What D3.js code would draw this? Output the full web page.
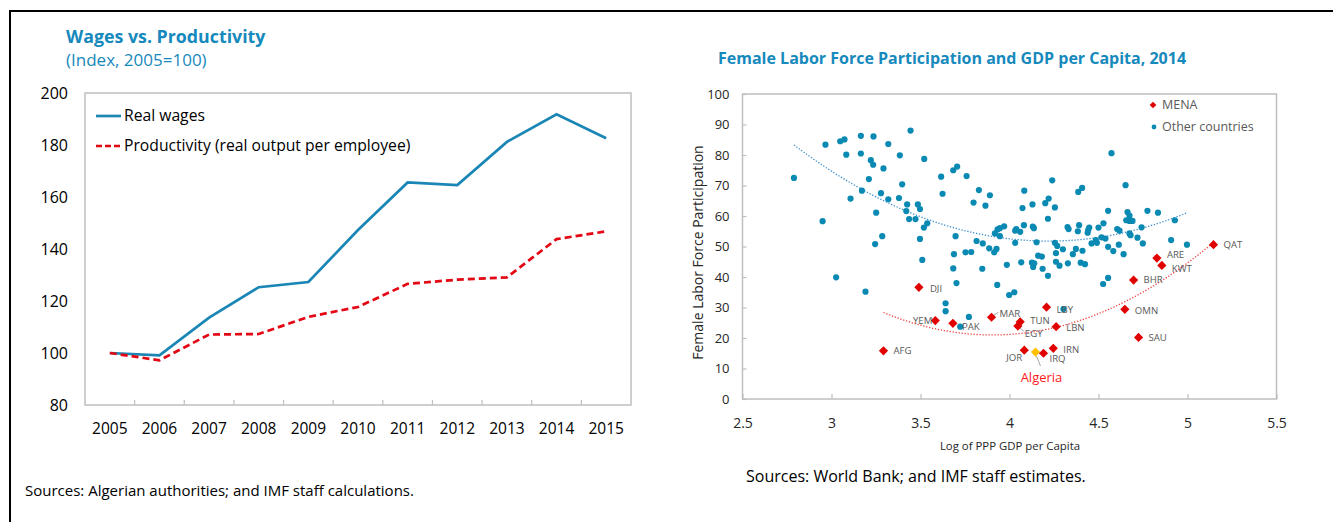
<!DOCTYPE html>
<html>
<head>
<meta charset="utf-8">
<script src="https://cdn.jsdelivr.net/npm/d3@7"></script>
<style>
  body { margin: 0; background: #fff; }
  svg { display: block; font-family: "Open Sans", "Noto Sans", sans-serif; }
</style>
</head>
<body>
<svg id="chart" width="1333" height="522"></svg>
<script>
// ---- Wages vs. productivity (index, 2005 = 100) ----
const years = [2005, 2006, 2007, 2008, 2009, 2010, 2011, 2012, 2013, 2014, 2015];
const realWages = [100, 99.1, 113.6, 125.3, 127.3, 147.3, 165.6, 164.6, 181.2, 191.8, 182.6];
const productivity = [100, 97.2, 107.1, 107.3, 113.9, 117.7, 126.6, 128.2, 129.1, 143.8, 146.8];
const wageTicks = [80, 100, 120, 140, 160, 180, 200];

// ---- Female labor force participation vs. log PPP GDP per capita, 2014 ----
const gdpTicks = [2.5, 3, 3.5, 4, 4.5, 5, 5.5];
const lfpTicks = [0, 10, 20, 30, 40, 50, 60, 70, 80, 90, 100];

// other countries: [log GDP per capita, participation rate]
const otherCountries = [
  [2.789, 72.5], [2.950, 58.3], [2.966, 83.4], [3.049, 84.5], [3.073, 85.1], [3.083, 80.1],
  [3.107, 65.7], [3.165, 86.3], [3.165, 80.5], [3.171, 68.3], [3.210, 72.1], [3.221, 78.3],
  [3.234, 76.8], [3.236, 86.1], [3.245, 50.8], [3.251, 61.1], [3.278, 67.5], [3.285, 53.4],
  [3.292, 75.6], [3.319, 83.6], [3.319, 65.5], [3.379, 65.9], [3.384, 79.9], [3.397, 70.4],
  [3.420, 61.6], [3.425, 63.8], [3.436, 59.0], [3.444, 88.0], [3.472, 59.0], [3.485, 63.8],
  [3.497, 62.3], [3.497, 52.5], [3.519, 56.2], [3.521, 78.7], [3.538, 57.6], [3.510, 45.6],
  [3.616, 72.9], [3.624, 67.3], [3.684, 75.0], [3.706, 76.2], [3.688, 47.5], [3.697, 53.4],
  [3.753, 48.1], [3.785, 48.2], [3.759, 73.1], [3.798, 64.4], [3.815, 51.8], [3.828, 68.5],
  [3.850, 51.0], [3.865, 63.4], [3.886, 49.4], [3.890, 66.8], [3.914, 48.1], [3.918, 54.3],
  [3.927, 49.2], [3.933, 55.6], [3.946, 53.4], [3.946, 56.0], [3.970, 56.6], [3.026, 39.9],
  [3.191, 35.2], [3.684, 42.8], [3.847, 42.7], [3.702, 38.0], [3.985, 44.0], [3.931, 37.4],
  [3.998, 34.1], [3.641, 31.4], [3.641, 28.8], [3.772, 26.9], [3.723, 23.7], [4.027, 35.0],
  [4.303, 29.5], [4.032, 51.2], [4.032, 55.2], [4.038, 55.7], [4.060, 54.8], [4.073, 62.6],
  [4.081, 57.0], [4.083, 68.3], [4.066, 44.8], [4.129, 63.8], [4.131, 56.5], [4.137, 56.0],
  [4.126, 44.7], [4.133, 43.3], [4.139, 44.5], [4.152, 51.4], [4.161, 47.0], [4.182, 46.7],
  [4.186, 42.7], [4.201, 64.2], [4.220, 65.7], [4.216, 59.1], [4.216, 40.4], [4.240, 71.7],
  [4.255, 62.8], [4.255, 51.2], [4.268, 50.2], [4.261, 47.8], [4.261, 45.0], [4.281, 43.7],
  [4.300, 49.1], [4.326, 56.4], [4.332, 55.7], [4.328, 44.5], [4.356, 47.5], [4.373, 49.2],
  [4.386, 67.9], [4.384, 55.0], [4.391, 57.0], [4.400, 44.7], [4.424, 44.2], [4.408, 69.2],
  [4.410, 48.6], [4.448, 56.2], [4.442, 55.4], [4.439, 54.5], [4.461, 51.0], [4.485, 52.1],
  [4.491, 51.2], [4.500, 56.2], [4.517, 53.0], [4.539, 52.6], [4.528, 57.6], [4.554, 61.7],
  [4.554, 49.9], [4.573, 80.6], [4.583, 48.5], [4.605, 55.7], [4.614, 50.6], [4.618, 55.2],
  [4.641, 47.5], [4.652, 70.1], [4.656, 58.6], [4.663, 61.3], [4.674, 60.1], [4.674, 58.4],
  [4.691, 58.4], [4.674, 54.3], [4.680, 53.7], [4.719, 52.9], [4.742, 56.3], [4.749, 51.0],
  [4.775, 61.7], [4.834, 61.1], [4.908, 52.1], [4.929, 58.6], [4.997, 50.6], [4.554, 39.7],
  [4.526, 37.7]
];

// MENA countries
const menaCodes = ["AFG", "DJI", "YEM", "PAK", "MAR", "EGY", "TUN", "JOR", "ALG", "IRQ", "LBY", "IRN", "LBN", "OMN", "BHR", "SAU", "ARE", "KWT", "QAT"];
const menaGdp   = [3.292, 3.491, 3.583, 3.682, 3.899, 4.047, 4.060, 4.083, 4.146, 4.191, 4.208, 4.246, 4.262, 4.648, 4.697, 4.725, 4.828, 4.856, 5.146];
const menaLfp   = [15.8, 36.6, 25.7, 24.8, 26.8, 23.9, 25.3, 16.0, 15.4, 15.0, 30.1, 16.6, 23.7, 29.4, 39.0, 20.2, 46.2, 43.8, 50.6];
const highlight = "ALG";
const highlightName = "Algeria";

const svg = d3.select("#chart");
const BLUE = "#1a86b5";
const RED = "#e30613";
const DOT = "#0a8ab2";
const TEXT = "#262626";
const LABEL = "#595959";
const FRAME = "#bfbfbf";
const TITLE = "#1689bd";

// page frame
svg.append("line").attr("x1", 10).attr("x2", 1333).attr("y1", 11).attr("y2", 11)
  .attr("stroke", "#000").attr("stroke-width", 2);
svg.append("line").attr("x1", 10).attr("x2", 10).attr("y1", 10).attr("y2", 522)
  .attr("stroke", "#000").attr("stroke-width", 2);

// ================= Left: wages vs productivity =================
const L = { left: 85, right: 631, top: 93, bottom: 405 };
const xb = d3.scaleBand().domain(years).range([L.left, L.right]);
const yw = d3.scaleLinear().domain([80, 200]).range([L.bottom, L.top]);

svg.append("text").attr("x", 66).attr("y", 43)
  .attr("fill", TITLE).attr("font-weight", 700).attr("font-size", 17.8)
  .text("Wages vs. Productivity");
svg.append("text").attr("x", 66).attr("y", 66)
  .attr("fill", TITLE).attr("font-size", 17)
  .text("(Index, 2005=100)");

svg.append("rect").attr("x", L.left).attr("y", L.top)
  .attr("width", L.right - L.left).attr("height", L.bottom - L.top)
  .attr("fill", "none").attr("stroke", FRAME).attr("stroke-width", 1.5);

const yAxisL = svg.append("g").attr("transform", `translate(${L.left},0)`)
  .call(d3.axisLeft(yw).tickValues(wageTicks).tickSize(0).tickPadding(17));
yAxisL.select(".domain").remove();
yAxisL.selectAll("text").attr("font-size", 16).attr("fill", "#000")
  .attr("font-family", "'Open Sans', sans-serif");

const xAxisL = svg.append("g").attr("transform", `translate(0,${L.bottom})`)
  .call(d3.axisBottom(xb).tickSize(0).tickPadding(18));
xAxisL.select(".domain").remove();
xAxisL.selectAll("text").attr("font-size", 15.5).attr("fill", "#000")
  .attr("font-family", "'Open Sans', sans-serif");

// category separators on the bottom edge
svg.append("g").selectAll("line").data(years.slice(1)).join("line")
  .attr("x1", d => xb(d)).attr("x2", d => xb(d))
  .attr("y1", L.bottom).attr("y2", L.bottom - 5)
  .attr("stroke", FRAME).attr("stroke-width", 1.2);

const lineW = d3.line().x((d, i) => xb(years[i]) + xb.bandwidth() / 2).y(d => yw(d));
svg.append("path").datum(realWages).attr("d", lineW)
  .attr("fill", "none").attr("stroke", BLUE).attr("stroke-width", 2.7);
svg.append("path").datum(productivity).attr("d", lineW)
  .attr("fill", "none").attr("stroke", RED).attr("stroke-width", 2.7)
  .attr("stroke-dasharray", "7,4");

// legend
const legL = [
  { name: "Real wages", color: BLUE, dash: null, y: 116 },
  { name: "Productivity (real output per employee)", color: RED, dash: "6,3", y: 146 }
];
legL.forEach(d => {
  svg.append("line").attr("x1", 96).attr("x2", 121).attr("y1", d.y).attr("y2", d.y)
    .attr("stroke", d.color).attr("stroke-width", 2.7).attr("stroke-dasharray", d.dash);
  svg.append("text").attr("x", 124).attr("y", d.y).attr("dy", "0.35em")
    .attr("font-size", 15.7).attr("fill", "#000").text(d.name);
});

svg.append("text").attr("x", 25).attr("y", 491).attr("dy", "0.35em")
  .attr("font-size", 15).attr("fill", "#000")
  .text("Sources: Algerian authorities; and IMF staff calculations.");

// ================= Right: female labor force participation =================
const R = { left: 742.5, right: 1276.5, top: 94, bottom: 399 };
const xs = d3.scaleLinear().domain([2.5, 5.5]).range([R.left, R.right]);
const ys = d3.scaleLinear().domain([0, 100]).range([R.bottom, R.top]);

svg.append("text").attr("x", 718).attr("y", 64)
  .attr("fill", TITLE).attr("font-weight", 700).attr("font-size", 16)
  .text("Female Labor Force Participation and GDP per Capita, 2014");

svg.append("rect").attr("x", R.left).attr("y", R.top)
  .attr("width", R.right - R.left).attr("height", R.bottom - R.top)
  .attr("fill", "none").attr("stroke", FRAME).attr("stroke-width", 1.5);

const xAxisR = svg.append("g").attr("transform", `translate(0,${R.bottom})`)
  .call(d3.axisBottom(xs).tickValues(gdpTicks).tickFormat(d3.format("")).tickSizeInner(-5).tickSizeOuter(0).tickPadding(19));
xAxisR.select(".domain").remove();
xAxisR.selectAll("line").attr("stroke", FRAME).attr("stroke-width", 1.2);
xAxisR.selectAll("text").attr("font-size", 14).attr("fill", TEXT)
  .attr("font-family", "'Open Sans', sans-serif");

const yAxisR = svg.append("g").attr("transform", `translate(${R.left},0)`)
  .call(d3.axisLeft(ys).tickValues(lfpTicks).tickSizeInner(-4).tickSizeOuter(0).tickPadding(13));
yAxisR.select(".domain").remove();
yAxisR.selectAll("line").attr("stroke", FRAME).attr("stroke-width", 1.2);
yAxisR.selectAll("text").attr("font-size", 13).attr("fill", TEXT)
  .attr("font-family", "'Open Sans', sans-serif");

svg.append("text").attr("transform", `translate(698,${(R.top + R.bottom) / 2 + 6}) rotate(-90)`)
  .attr("text-anchor", "middle").attr("dy", "0.35em")
  .attr("font-size", 14).attr("fill", TEXT)
  .text("Female Labor Force Participation");
svg.append("text").attr("x", 1010).attr("y", 446).attr("dy", "0.35em")
  .attr("text-anchor", "middle").attr("font-size", 11.4).attr("fill", TEXT)
  .text("Log of PPP GDP per Capita");

svg.append("text").attr("x", 746).attr("y", 476).attr("dy", "0.35em")
  .attr("font-size", 16).attr("fill", "#000")
  .text("Sources: World Bank; and IMF staff estimates.");

// second-order least-squares trend through a set of points
function quadFit(xsArr, ysArr) {
  const n = xsArr.length;
  let s = [0, 0, 0, 0, 0], t = [0, 0, 0];
  for (let i = 0; i < n; i++) {
    const x = xsArr[i], y = ysArr[i];
    for (let k = 0; k < 5; k++) s[k] += Math.pow(x, k);
    for (let k = 0; k < 3; k++) t[k] += y * Math.pow(x, k);
  }
  const A = [[s[0], s[1], s[2], t[0]], [s[1], s[2], s[3], t[1]], [s[2], s[3], s[4], t[2]]];
  for (let c = 0; c < 3; c++) {
    for (let r = c + 1; r < 3; r++) {
      const f = A[r][c] / A[c][c];
      for (let k = c; k < 4; k++) A[r][k] -= f * A[c][k];
    }
  }
  const b = [0, 0, 0];
  for (let r = 2; r >= 0; r--) {
    let v = A[r][3];
    for (let k = r + 1; k < 3; k++) v -= A[r][k] * b[k];
    b[r] = v / A[r][r];
  }
  const lo = d3.min(xsArr), hi = d3.max(xsArr);
  return d3.range(0, 61).map(i => {
    const x = lo + (hi - lo) * i / 60;
    return [x, b[0] + b[1] * x + b[2] * x * x];
  });
}

const trendLine = d3.line().x(d => xs(d[0])).y(d => ys(d[1]));
svg.append("path").datum(quadFit(otherCountries.map(d => d[0]), otherCountries.map(d => d[1])))
  .attr("d", trendLine).attr("fill", "none").attr("stroke", "#3b8fd0")
  .attr("stroke-width", 1.3).attr("stroke-dasharray", "1.3,1.7");
svg.append("path").datum(quadFit(menaGdp, menaLfp))
  .attr("d", trendLine).attr("fill", "none").attr("stroke", "#ee4444")
  .attr("stroke-width", 1.3).attr("stroke-dasharray", "1.3,1.7");

// other countries
svg.append("g").selectAll("circle").data(otherCountries).join("circle")
  .attr("cx", d => xs(d[0])).attr("cy", d => ys(d[1])).attr("r", 3.1)
  .attr("fill", DOT);

// MENA diamonds and labels
const diamond = s => `M0,${-s}L${s},0L0,${s}L${-s},0Z`;
const mena = menaCodes.map((c, i) => ({ code: c, gdp: menaGdp[i], lfp: menaLfp[i] }));

// label placement relative to each marker: [dx, dy, anchor]
const place = {
  AFG: [10, 0, "start"], DJI: [11, 1, "start"], YEM: [-3, 0, "end"], PAK: [9, 3, "start"],
  MAR: [8, -4, "start"], EGY: [7, 8, "start"], TUN: [10, -1, "start"], JOR: [-2, 7, "end"],
  IRQ: [6, 5, "start"], LBY: [10, 2, "start"], IRN: [10, 1, "start"], LBN: [10, 1, "start"],
  OMN: [10, 1, "start"], BHR: [10, 0, "start"], SAU: [10, 0, "start"], ARE: [10, -3, "start"],
  KWT: [10, 3, "start"], QAT: [10, 0, "start"]
};

// short leader strokes
const leaders = [
  { code: "MAR", dx1: 2, dy1: -2, dx2: 7, dy2: -5 },
  { code: "EGY", dx1: 2, dy1: 2, dx2: 6, dy2: 5 },
  { code: highlight, dx1: 1, dy1: 4, dx2: 5, dy2: 14 }
];
leaders.forEach(l => {
  const m = mena.find(d => d.code === l.code);
  svg.append("line")
    .attr("x1", xs(m.gdp) + l.dx1).attr("y1", ys(m.lfp) + l.dy1)
    .attr("x2", xs(m.gdp) + l.dx2).attr("y2", ys(m.lfp) + l.dy2)
    .attr("stroke", "#a6a6a6").attr("stroke-width", 1);
});

svg.append("g").selectAll("path").data(mena).join("path")
  .attr("transform", d => `translate(${xs(d.gdp)},${ys(d.lfp)})`)
  .attr("d", diamond(4.6))
  .attr("fill", d => d.code === highlight ? "#ffc000" : "#e00000");

svg.append("g").selectAll("text").data(mena.filter(d => d.code !== highlight)).join("text")
  .attr("x", d => xs(d.gdp) + place[d.code][0])
  .attr("y", d => ys(d.lfp) + place[d.code][1])
  .attr("dy", "0.35em").attr("text-anchor", d => place[d.code][2])
  .attr("font-size", 9.6).attr("fill", LABEL)
  .text(d => d.code);

const alg = mena.find(d => d.code === highlight);
svg.append("text").attr("x", xs(alg.gdp) + 6).attr("y", ys(alg.lfp) + 25).attr("dy", "0.35em")
  .attr("text-anchor", "middle").attr("font-size", 13).attr("fill", "#ff1a1a")
  .text(highlightName);

// legend
svg.append("path").attr("transform", "translate(1153,105)").attr("d", diamond(3.3)).attr("fill", "#e00000");
svg.append("text").attr("x", 1162).attr("y", 105).attr("dy", "0.35em")
  .attr("font-size", 12.5).attr("fill", LABEL).text("MENA");
svg.append("circle").attr("cx", 1154).attr("cy", 127).attr("r", 2.4).attr("fill", DOT);
svg.append("text").attr("x", 1162).attr("y", 127).attr("dy", "0.35em")
  .attr("font-size", 12.5).attr("fill", LABEL).text("Other countries");
</script>
</body>
</html>
